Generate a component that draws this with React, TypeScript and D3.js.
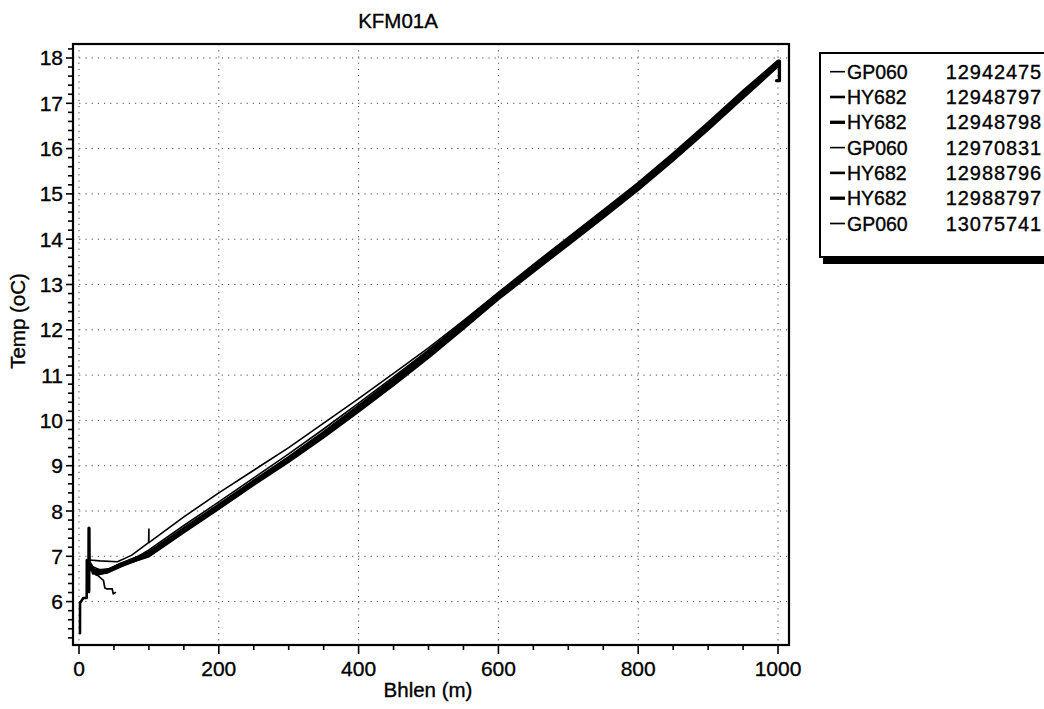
import React from "react";
import * as d3 from "d3";

// ---------- data ----------
const TITLE = "KFM01A";
const X_LABEL = "Bhlen (m)";
const Y_LABEL = "Temp (oC)";

const X_TICKS = [0, 200, 400, 600, 800, 1000];
const Y_TICKS = [6, 7, 8, 9, 10, 11, 12, 13, 14, 15, 16, 17, 18];

const SERIES_NAMES = ["GP060", "HY682", "HY682", "GP060", "HY682", "HY682", "GP060"];
const SERIES_IDS = ["12942475", "12948797", "12948798", "12970831", "12988796", "12988797", "13075741"];

// shared depth grid (m)
const DEPTH = [100, 150, 200, 250, 300, 350, 400, 450, 500, 550, 600, 650, 700, 750, 800, 850, 900, 950, 1000];

// temperatures on the depth grid, one list per series
const T_GP060_12942475 = [7.30, 7.87, 8.40, 8.90, 9.40, 9.94, 10.48, 11.04, 11.60, 12.20, 12.82, 13.41, 14.01, 14.60, 15.21, 15.85, 16.53, 17.22, 17.90];
const T_HY682_12948797 = [7.02, 7.55, 8.07, 8.60, 9.12, 9.67, 10.24, 10.83, 11.44, 12.07, 12.72, 13.33, 13.93, 14.53, 15.14, 15.80, 16.48, 17.18, 17.86];
const T_HY682_12948798 = [7.05, 7.58, 8.10, 8.63, 9.15, 9.70, 10.27, 10.86, 11.47, 12.10, 12.75, 13.36, 13.96, 14.56, 15.17, 15.82, 16.50, 17.20, 17.88];
const T_GP060_12970831 = [7.14, 7.68, 8.20, 8.73, 9.26, 9.81, 10.38, 10.96, 11.55, 12.16, 12.79, 13.39, 13.98, 14.58, 15.19, 15.84, 16.52, 17.21, 17.89];
const T_HY682_12988796 = [7.00, 7.53, 8.05, 8.58, 9.09, 9.63, 10.20, 10.78, 11.39, 12.03, 12.68, 13.28, 13.88, 14.48, 15.09, 15.74, 16.42, 17.12, 17.82];
const T_HY682_12988797 = [7.08, 7.61, 8.13, 8.66, 9.18, 9.73, 10.31, 10.90, 11.52, 12.16, 12.80, 13.42, 14.02, 14.62, 15.23, 15.88, 16.56, 17.26, 17.93];
const T_GP060_13075741 = [7.06, 7.60, 8.12, 8.64, 9.17, 9.71, 10.28, 10.87, 11.48, 12.11, 12.76, 13.37, 13.97, 14.57, 15.18, 15.83, 16.51, 17.21, 17.89];

// near-surface readings [depth, temp] before the grid
const HEAD_GP060_12942475: [number, number][] = [[15, 6.92], [30, 6.9], [55, 6.88], [75, 7.02], [99.5, 7.3], [100, 7.6]];
const HEAD_HY682_12948797: [number, number][] = [[1.4, 5.3], [1.5, 5.97], [6.2, 6.08], [11, 6.08], [11.2, 6.92], [20, 6.64], [40, 6.66], [60, 6.8], [80, 6.9]];
const HEAD_HY682_12948798: [number, number][] = [[13, 6.85], [14, 6.22], [14.3, 7.62], [14.6, 6.86], [25, 6.6], [35, 6.64], [60, 6.82], [80, 6.93]];
const HEAD_GP060_12970831: [number, number][] = [[16, 6.8], [30, 6.7], [50, 6.74], [70, 6.9], [85, 7.0]];
const HEAD_HY682_12988796: [number, number][] = [[20, 6.62], [40, 6.64], [60, 6.78], [80, 6.9]];
const HEAD_HY682_12988797: [number, number][] = [[18, 6.7], [40, 6.68], [60, 6.83], [80, 6.95]];
const HEAD_GP060_13075741: [number, number][] = [[52, 6.2], [49, 6.17], [47.5, 6.28], [40, 6.28], [37, 6.3], [35, 6.47], [25, 6.6], [16, 6.86], [25, 6.62], [35, 6.66], [60, 6.84], [80, 6.94]];

// readings after the grid end
const TAIL_HY682_12988797: [number, number][] = [[1002, 17.93], [1002, 17.5], [998, 17.5]];

const SERIES_TEMPS = [T_GP060_12942475, T_HY682_12948797, T_HY682_12948798, T_GP060_12970831, T_HY682_12988796, T_HY682_12988797, T_GP060_13075741];
const SERIES_HEADS = [HEAD_GP060_12942475, HEAD_HY682_12948797, HEAD_HY682_12948798, HEAD_GP060_12970831, HEAD_HY682_12988796, HEAD_HY682_12988797, HEAD_GP060_13075741];
const SERIES_TAILS: [number, number][][] = [[], [], [], [], [], TAIL_HY682_12988797, []];

// ---------- style ----------
const W = 1044;
const H = 709;
const PL = 73, PR = 789, PT = 44, PB = 645;
const WIDTHS = [1.6, 2.6, 3.3, 1.6, 2.6, 3.3, 1.7];
const FONT = "'Liberation Sans', Arial, Helvetica, sans-serif";
const TEXT_STROKE = 0.35;

export default function App() {
  const x = d3.scaleLinear().domain([-8.58, 1015.7]).range([PL, PR]);
  const y = d3.scaleLinear().domain([5.042, 18.309]).range([PB, PT]);
  const line = d3
    .line<[number, number]>()
    .x((d) => x(d[0]))
    .y((d) => y(d[1]));

  const series = SERIES_TEMPS.map((temps, i) => {
    const pts: [number, number][] = [
      ...SERIES_HEADS[i],
      ...DEPTH.map((dd, k) => [dd, temps[k]] as [number, number]),
      ...SERIES_TAILS[i],
    ];
    return pts;
  });

  const xMinor = d3.range(0, 1001, 50);
  const yMinor = d3.range(5.2, 18.3, 0.2).filter((v) => Math.abs(v - Math.round(v)) > 0.05);

  const legendRowY = (i: number) => 71.7 + i * 25.3;

  return (
    <svg
      width={W}
      height={H}
      viewBox={`0 0 ${W} ${H}`}
      style={{ position: "absolute", left: 0, top: 0, background: "#fff" }}
      fontFamily={FONT}
    >
      <rect x={0} y={0} width={W} height={H} fill="#fff" />
      {/* grid */}
      <g stroke="#000" strokeWidth={1} strokeDasharray="1.2,5" opacity={0.7}>
        {X_TICKS.map((t) => (
          <line key={"gx" + t} x1={x(t)} x2={x(t)} y1={PT} y2={PB} />
        ))}
        {Y_TICKS.map((t) => (
          <line key={"gy" + t} x1={PL} x2={PR} y1={y(t)} y2={y(t)} />
        ))}
      </g>

      {/* data */}
      <g fill="none" stroke="#000" strokeLinejoin="round" strokeLinecap="round">
        {series.map((pts, i) => (
          <path key={"s" + i} d={line(pts) || ""} strokeWidth={WIDTHS[i]} />
        ))}
      </g>

      {/* frame */}
      <rect x={PL} y={PT} width={PR - PL} height={PB - PT} fill="none" stroke="#000" strokeWidth={2.2} />

      {/* ticks */}
      <g stroke="#000" strokeWidth={1.6}>
        {xMinor.map((t) => (
          <line key={"xt" + t} x1={x(t)} x2={x(t)} y1={PB} y2={PB + (t % 200 === 0 ? 9 : 5)} />
        ))}
        {yMinor.map((t) => (
          <line key={"ytm" + t.toFixed(1)} x1={PL - 5} x2={PL} y1={y(t)} y2={y(t)} />
        ))}
        {Y_TICKS.map((t) => (
          <line key={"yt" + t} x1={PL - 7} x2={PL} y1={y(t)} y2={y(t)} />
        ))}
      </g>

      <g fontSize={21} fill="#000" stroke="#000" strokeWidth={TEXT_STROKE}>
        {X_TICKS.map((t) => (
          <text key={"xl" + t} x={x(t)} y={676} textAnchor="middle">
            {t}
          </text>
        ))}
        {Y_TICKS.map((t) => (
          <text key={"yl" + t} x={63} y={y(t) + 7.5} textAnchor="end">
            {t}
          </text>
        ))}
      </g>

      {/* titles */}
      <g fill="#000" stroke="#000" strokeWidth={TEXT_STROKE} fontSize={20.5}>
        <text x={398} y={28} textAnchor="middle">
          {TITLE}
        </text>
        <text x={428} y={697} textAnchor="middle">
          {X_LABEL}
        </text>
        <text transform={`translate(25,321) rotate(-90)`} textAnchor="middle">
          {Y_LABEL}
        </text>
      </g>

      {/* legend */}
      <rect x={823} y={256} width={240} height={8} fill="#000" />
      <rect x={820} y={53} width={240} height={204} fill="#fff" stroke="#000" strokeWidth={2} />
      {SERIES_NAMES.map((nm, i) => (
        <g key={"lg" + i}>
          <line x1={830} x2={845} y1={legendRowY(i)} y2={legendRowY(i)} stroke="#000" strokeWidth={WIDTHS[i]} />
          <text x={847} y={legendRowY(i) + 7} fontSize={19.5} stroke="#000" strokeWidth={TEXT_STROKE}>
            {nm}
          </text>
          <text
            x={1042}
            y={legendRowY(i) + 7}
            fontSize={20}
            textAnchor="end"
            letterSpacing={0.9}
            stroke="#000"
            strokeWidth={TEXT_STROKE}
          >
            {SERIES_IDS[i]}
          </text>
        </g>
      ))}
    </svg>
  );
}
